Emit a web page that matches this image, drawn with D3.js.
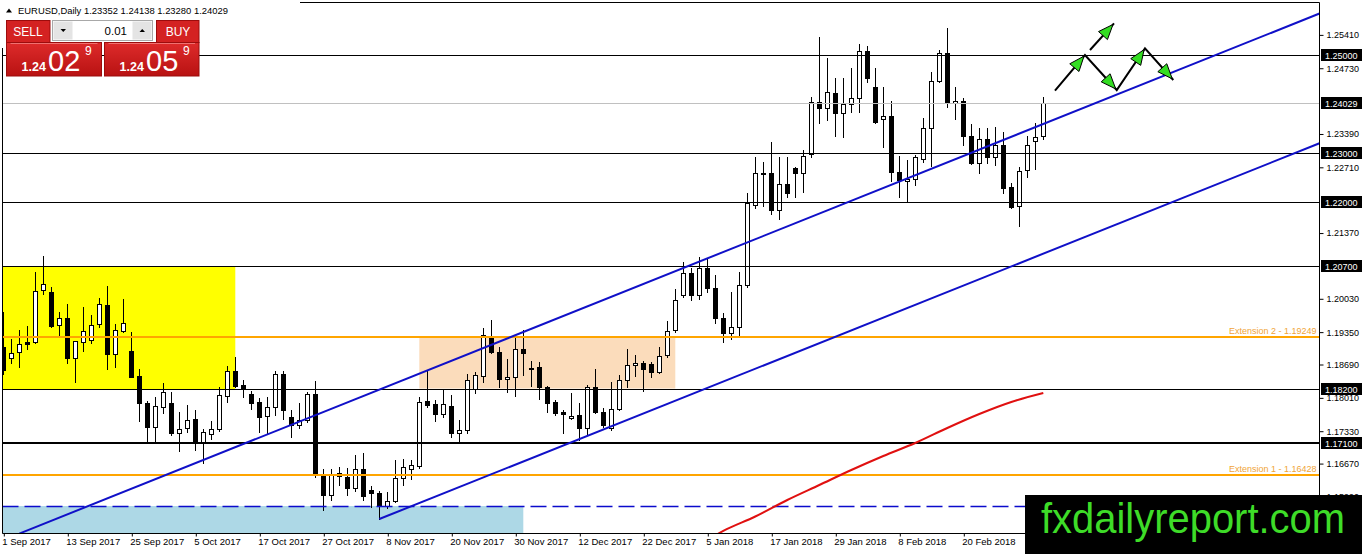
<!DOCTYPE html>
<html>
<head>
<meta charset="utf-8">
<script src="https://d3js.org/d3.v7.min.js"></script>
<style>
    * { margin: 0; padding: 0; }
    body { width: 1362px; height: 554px; overflow: hidden; background: #fff; }
    #chart { width: 1362px; height: 554px; }
    text { font-family: "Liberation Sans", Arial, sans-serif; }
</style>
</head>
<body>
<div id="chart"></div>
<script>
    // trading days shown on the chart (1 Sep 2017 .. 6 Mar 2018)
    const dates = [
        "2017-09-01","2017-09-04","2017-09-05","2017-09-06","2017-09-07","2017-09-08","2017-09-11","2017-09-12","2017-09-13","2017-09-14",
        "2017-09-15","2017-09-18","2017-09-19","2017-09-20","2017-09-21","2017-09-22","2017-09-25","2017-09-26","2017-09-27","2017-09-28",
        "2017-09-29","2017-10-02","2017-10-03","2017-10-04","2017-10-05","2017-10-06","2017-10-09","2017-10-10","2017-10-11","2017-10-12",
        "2017-10-13","2017-10-16","2017-10-17","2017-10-18","2017-10-19","2017-10-20","2017-10-23","2017-10-24","2017-10-25","2017-10-26",
        "2017-10-27","2017-10-30","2017-10-31","2017-11-01","2017-11-02","2017-11-03","2017-11-06","2017-11-07","2017-11-08","2017-11-09",
        "2017-11-10","2017-11-13","2017-11-14","2017-11-15","2017-11-16","2017-11-17","2017-11-20","2017-11-21","2017-11-22","2017-11-23",
        "2017-11-24","2017-11-27","2017-11-28","2017-11-29","2017-11-30","2017-12-01","2017-12-04","2017-12-05","2017-12-06","2017-12-07",
        "2017-12-08","2017-12-11","2017-12-12","2017-12-13","2017-12-14","2017-12-15","2017-12-18","2017-12-19","2017-12-20","2017-12-21",
        "2017-12-22","2017-12-26","2017-12-27","2017-12-28","2017-12-29","2018-01-02","2018-01-03","2018-01-04","2018-01-05","2018-01-08",
        "2018-01-09","2018-01-10","2018-01-11","2018-01-12","2018-01-15","2018-01-16","2018-01-17","2018-01-18","2018-01-19","2018-01-22",
        "2018-01-23","2018-01-24","2018-01-25","2018-01-26","2018-01-29","2018-01-30","2018-01-31","2018-02-01","2018-02-02","2018-02-05",
        "2018-02-06","2018-02-07","2018-02-08","2018-02-09","2018-02-12","2018-02-13","2018-02-14","2018-02-15","2018-02-16","2018-02-19",
        "2018-02-20","2018-02-21","2018-02-22","2018-02-23","2018-02-26","2018-02-27","2018-02-28","2018-03-01","2018-03-02","2018-03-05",
        "2018-03-06"
    ];

    const open = [
        1.19053,1.18816,1.18939,1.19142,1.19142,1.20203,1.20162,1.19489,1.19632,1.18816,
        1.19142,1.19189,1.19510,1.19903,1.18898,1.19379,1.18965,1.18456,1.17905,1.17410,
        1.17817,1.17899,1.17287,1.17389,1.17573,1.17104,1.17273,1.17369,1.18048,1.18551,
        1.18272,1.18089,1.17925,1.17640,1.17830,1.18490,1.17614,1.17457,1.17559,1.18082,
        1.16458,1.16036,1.16472,1.16403,1.16166,1.16553,1.16125,1.16064,1.15805,1.15913,
        1.16370,1.16553,1.16621,1.17946,1.17879,1.17675,1.17844,1.17287,1.17355,1.18191,
        1.18462,1.19236,1.18951,1.18388,1.18441,1.19000,1.18619,1.18633,1.18225,1.17919,
        1.17715,1.17605,1.17660,1.17389,1.18225,1.17728,1.17389,1.17777,1.18374,1.18680,
        1.18727,1.18694,1.18543,1.18884,1.19393,1.20107,1.20549,1.20107,1.20651,1.20243,
        1.19632,1.19326,1.19448,1.20311,1.21942,1.22600,1.22588,1.21840,1.22364,1.22690,
        1.22588,1.22975,1.24048,1.23913,1.24231,1.23811,1.23995,1.24117,1.25081,1.24341,
        1.23689,1.23756,1.22608,1.22437,1.22466,1.22873,1.23505,1.24476,1.25034,1.24021,
        1.24062,1.23348,1.22804,1.23287,1.22914,1.23165,1.22303,1.21921,1.22655,1.23246,
        1.23352
    ];
    const high = [
        1.19766,1.19204,1.19393,1.19475,1.20576,1.20902,1.20264,1.19760,1.19917,1.19169,
        1.19862,1.19693,1.20040,1.20290,1.19516,1.20019,1.19346,1.18598,1.17946,1.18027,
        1.18307,1.18123,1.17715,1.17858,1.17762,1.17369,1.17538,1.18237,1.18659,1.18843,
        1.18374,1.18156,1.18013,1.18021,1.18557,1.18557,1.17762,1.17899,1.18135,1.18354,
        1.16553,1.16553,1.16594,1.16574,1.16845,1.16892,1.16219,1.16111,1.16097,1.16743,
        1.16757,1.16743,1.18034,1.18578,1.17966,1.18184,1.18068,1.17559,1.18496,1.18543,
        1.19428,1.19597,1.19053,1.18796,1.19245,1.19393,1.18761,1.18747,1.18252,1.17966,
        1.17762,1.18103,1.17899,1.18272,1.18592,1.17797,1.18339,1.18476,1.19000,1.18884,
        1.18761,1.18747,1.19053,1.19583,1.20223,1.20786,1.20651,1.20875,1.20835,1.20515,
        1.19734,1.20162,1.20582,1.22180,1.22926,1.22824,1.23232,1.22926,1.22926,1.22723,
        1.23063,1.24150,1.25361,1.24945,1.24525,1.24537,1.24741,1.25224,1.25183,1.24729,
        1.24341,1.24062,1.22941,1.22859,1.22961,1.23709,1.24659,1.25102,1.25544,1.24341,
        1.24117,1.23593,1.23518,1.23505,1.23538,1.23436,1.22396,1.22723,1.23348,1.23620,
        1.24138
    ];
    const low = [
        1.18496,1.18714,1.18645,1.19000,1.19122,1.20121,1.19448,1.19277,1.18714,1.18339,
        1.18971,1.19122,1.19461,1.18592,1.18633,1.19346,1.18429,1.17544,1.17136,1.17136,
        1.17695,1.17253,1.16933,1.17308,1.16947,1.16676,1.17165,1.17334,1.17932,1.18231,
        1.18021,1.17777,1.17320,1.17300,1.17660,1.17573,1.17218,1.17402,1.17524,1.16390,
        1.15724,1.15928,1.16233,1.16029,1.16111,1.15928,1.15791,1.15540,1.15758,1.15893,
        1.16233,1.16350,1.16580,1.17830,1.17544,1.17626,1.17218,1.17116,1.17287,1.18103,
        1.18339,1.18918,1.18237,1.18135,1.18048,1.18476,1.18252,1.17980,1.17728,1.17660,
        1.17287,1.17579,1.17151,1.17253,1.17695,1.17422,1.17355,1.17762,1.18237,1.18456,
        1.18156,1.18429,1.18511,1.18843,1.19359,1.20066,1.20005,1.20019,1.20174,1.19530,
        1.19155,1.19204,1.19257,1.20270,1.21874,1.21921,1.21758,1.21650,1.22111,1.22111,
        1.22213,1.22926,1.23620,1.23675,1.23348,1.23334,1.23844,1.23844,1.24455,1.23620,
        1.23130,1.22437,1.22111,1.22029,1.22349,1.22824,1.22737,1.24455,1.23934,1.23689,
        1.23165,1.22778,1.22588,1.22804,1.22757,1.22192,1.21874,1.21514,1.22506,1.22670,
        1.23280
    ];
    const close = [
        1.18578,1.18930,1.19102,1.19118,1.20182,1.20337,1.19481,1.19632,1.18816,1.19169,
        1.19379,1.19501,1.19917,1.18898,1.19387,1.19530,1.18441,1.17899,1.17410,1.17838,
        1.18123,1.17287,1.17381,1.17552,1.17100,1.17320,1.17369,1.18068,1.18551,1.18258,
        1.18191,1.17911,1.17626,1.17830,1.18490,1.17762,1.17457,1.17559,1.18082,1.16458,
        1.16036,1.16458,1.16423,1.16166,1.16553,1.16009,1.16064,1.15805,1.15913,1.16382,
        1.16606,1.16635,1.17932,1.17864,1.17675,1.17879,1.17287,1.17355,1.18374,1.18470,
        1.19291,1.18951,1.18388,1.18429,1.19000,1.18930,1.18592,1.18225,1.17911,1.17695,
        1.17687,1.17646,1.17389,1.18225,1.17728,1.17457,1.17777,1.18374,1.18674,1.18727,
        1.18592,1.18543,1.18863,1.19379,1.20005,1.20549,1.20107,1.20651,1.20243,1.19632,
        1.19338,1.19448,1.20311,1.21976,1.22600,1.22574,1.21840,1.22364,1.22180,1.22588,
        1.22947,1.24048,1.23913,1.24252,1.23811,1.24001,1.24117,1.25075,1.24525,1.23640,
        1.23756,1.22621,1.22451,1.22466,1.22914,1.23505,1.24476,1.25034,1.24048,1.24062,
        1.23348,1.22804,1.23281,1.22914,1.23165,1.22294,1.21907,1.22641,1.23165,1.23322,
        1.24029
    ];

    // moving average (read at a few bars)
    const maIdx = [88, 90, 94, 98, 102, 106, 110, 114, 118, 122, 126, 130];
    const maVal = [1.15112, 1.15296, 1.15591, 1.15928, 1.16233, 1.16539, 1.16825, 1.17090, 1.17396, 1.17681, 1.17926, 1.18109];

    const xTickDates = ["2017-09-01","2017-09-13","2017-09-25","2017-10-05","2017-10-17","2017-10-27","2017-11-08","2017-11-20",
        "2017-11-30","2017-12-12","2017-12-22","2018-01-05","2018-01-17","2018-01-29","2018-02-08","2018-02-20"];
    const xTickLabels = ["1 Sep 2017","13 Sep 2017","25 Sep 2017","5 Oct 2017","17 Oct 2017","27 Oct 2017","8 Nov 2017","20 Nov 2017",
        "30 Nov 2017","12 Dec 2017","22 Dec 2017","5 Jan 2018","17 Jan 2018","29 Jan 2018","8 Feb 2018","20 Feb 2018"];
    const priceTicks = [1.25410, 1.24730, 1.23390, 1.22710, 1.21370, 1.20030, 1.19350, 1.18690, 1.18010, 1.17330, 1.16670, 1.15990];

    const levels = [1.25, 1.23, 1.22, 1.207, 1.182, 1.171];
    const extLevels = [1.19249, 1.16428];
    const extLabels = ["Extension 2 - 1.19249", "Extension 1 - 1.16428"];
    const bid = 1.24029;
    const dashLevel = 1.15805;

    // boxes: from bar, to bar, top price, bottom price
    const zoneFrom = [-1, 52, -1];
    const zoneTo = [29, 84, 65];
    const zoneTop = [1.2068, 1.1925, 1.15805];
    const zoneBottom = [1.1817, 1.1820, 1.14];

    // channel anchors [bar, price]
    const channelUpper = [[2, 1.15243], [150, 1.24898]];
    const channelLower = [[47, 1.15540], [150, 1.22254]];

    // projection arrows [bar, price]
    const zigzag = [[131.46, 1.24272], [135.21, 1.25], [139.18, 1.24286], [142.71, 1.25136], [146.25, 1.24490]];
    const sideArrow = [[135.84, 1.25102], [138.84, 1.25646]];

    const header = "EURUSD,Daily  1.23352 1.24138 1.23280 1.24029";

    let W = 1362, H = 554;
    let frame = { left: 2.5, right: 1319.5, top: 2.5, bottom: 533.5 };

    let x = d3.scaleLinear().domain([0, 130]).range([3.3, 1043.3]);
    let y = d3.scaleLinear().domain([1.171, 1.25]).range([442.5, 55]);
    let px = i => Math.round(x(i)) + 0.5;
    let py = v => Math.round(y(v)) + 0.5;

    let svg = d3.select("#chart").append("svg")
        .attr("width", W).attr("height", H)
        .style("display", "block");

    let defs = svg.append("defs");
    defs.append("clipPath").attr("id", "plot").append("rect")
        .attr("x", frame.left).attr("y", frame.top)
        .attr("width", frame.right - frame.left).attr("height", frame.bottom - frame.top);

    let grad = defs.append("linearGradient").attr("id", "redbox").attr("x1", 0).attr("x2", 0).attr("y1", 0).attr("y2", 1);
    grad.append("stop").attr("offset", "0%").attr("stop-color", "#de2b2b");
    grad.append("stop").attr("offset", "100%").attr("stop-color", "#b81212");

    let g = svg.append("g").attr("clip-path", "url(#plot)");

    // zones
    let zoneColors = ["#ffff00", "#fbdcbb", "#add8e6"];
    g.selectAll(".zone").data(zoneFrom).enter().append("rect")
        .attr("x", (d, k) => x(zoneFrom[k]))
        .attr("width", (d, k) => x(zoneTo[k]) - x(zoneFrom[k]))
        .attr("y", (d, k) => y(zoneTop[k]))
        .attr("height", (d, k) => y(zoneBottom[k]) - y(zoneTop[k]))
        .attr("fill", (d, k) => zoneColors[k]);

    // candles
    let candles = dates.map((d, i) => ({ i: i, date: d, o: open[i], h: high[i], l: low[i], c: close[i] }));

    g.selectAll(".wick").data(candles).enter().append("line")
        .attr("x1", d => px(d.i)).attr("x2", d => px(d.i))
        .attr("y1", d => Math.round(y(d.h))).attr("y2", d => Math.round(y(d.l)) + 1)
        .attr("stroke", "#000").attr("stroke-width", 1);

    g.selectAll(".body").data(candles).enter().append("rect")
        .attr("x", d => px(d.i) - 2)
        .attr("width", 4)
        .attr("y", d => py(Math.max(d.o, d.c)))
        .attr("height", d => Math.max(1, Math.round(y(Math.min(d.o, d.c))) - Math.round(y(Math.max(d.o, d.c)))))
        .attr("fill", d => d.c >= d.o ? "#fff" : "#000")
        .attr("stroke", "#000").attr("stroke-width", 1);

    // horizontal levels
    g.selectAll(".level").data(levels).enter().append("line")
        .attr("x1", frame.left).attr("x2", frame.right)
        .attr("y1", d => d == 1.171 ? Math.round(y(d)) : py(d))
        .attr("y2", d => d == 1.171 ? Math.round(y(d)) : py(d))
        .attr("stroke", "#000").attr("stroke-width", d => d == 1.171 ? 2 : 1);

    g.append("line")
        .attr("x1", frame.left).attr("x2", frame.right)
        .attr("y1", py(bid)).attr("y2", py(bid))
        .attr("stroke", "#c0c0c0").attr("stroke-width", 1);

    g.append("line")
        .attr("x1", frame.left).attr("x2", frame.right)
        .attr("y1", py(dashLevel)).attr("y2", py(dashLevel))
        .attr("stroke", "#0b0bcc").attr("stroke-width", 1.5)
        .attr("stroke-dasharray", "16,6");

    g.selectAll(".ext").data(extLevels).enter().append("line")
        .attr("x1", frame.left).attr("x2", frame.right)
        .attr("y1", d => Math.round(y(d))).attr("y2", d => Math.round(y(d)))
        .attr("stroke", "#ffa500").attr("stroke-width", 2);

    g.selectAll(".extlabel").data(extLevels).enter().append("text")
        .attr("x", frame.right - 3).attr("y", d => Math.round(y(d)) - 3)
        .attr("text-anchor", "end")
        .attr("fill", "#f0a438")
        .style("font-size", "9px")
        .text((d, k) => extLabels[k]);

    // channel rays
    let iRight = x.invert(frame.right);
    let ray = pts => {
        let [a, b] = pts;
        let slope = (b[1] - a[1]) / (b[0] - a[0]);
        return [a, [iRight, a[1] + slope * (iRight - a[0])]];
    };
    g.selectAll(".channel").data([channelUpper, channelLower]).enter().append("line")
        .attr("x1", d => x(ray(d)[0][0])).attr("y1", d => y(ray(d)[0][1]))
        .attr("x2", d => x(ray(d)[1][0])).attr("y2", d => y(ray(d)[1][1]))
        .attr("stroke", "#1010c8").attr("stroke-width", 2);

    // moving average
    let maLine = d3.line().x(d => x(d[0])).y(d => y(d[1])).curve(d3.curveMonotoneX);
    g.append("path")
        .datum(maIdx.map((d, k) => [d, maVal[k]]))
        .attr("d", maLine)
        .attr("fill", "none").attr("stroke", "#e01010").attr("stroke-width", 2);

    // projection arrows
    let arrowLine = d3.line().x(d => x(d[0])).y(d => y(d[1]));
    [zigzag, sideArrow].forEach(pts => {
        g.append("path").attr("d", arrowLine(pts))
            .attr("fill", "none").attr("stroke", "#000").attr("stroke-width", 2);
    });
    let heads = [];
    for (let k = 1; k < zigzag.length; k++) heads.push([zigzag[k - 1], zigzag[k]]);
    heads.push([sideArrow[0], sideArrow[1]]);
    g.selectAll(".head").data(heads).enter().append("path")
        .attr("d", d => {
            let x0 = x(d[0][0]), y0 = y(d[0][1]), x1 = x(d[1][0]), y1 = y(d[1][1]);
            let len = Math.hypot(x1 - x0, y1 - y0);
            let ux = (x1 - x0) / len, uy = (y1 - y0) / len;
            let tx = x1 - ux * 1.5, ty = y1 - uy * 1.5;
            let bx = tx - ux * 15, by = ty - uy * 15;
            return `M${tx},${ty}L${bx - uy * 6},${by + ux * 6}L${bx + uy * 6},${by - ux * 6}Z`;
        })
        .attr("fill", "#33dd22").attr("stroke", "#000").attr("stroke-width", 1);

    // frame
    svg.append("line").attr("x1", frame.left).attr("x2", frame.left).attr("y1", 48).attr("y2", frame.bottom).attr("stroke", "#000");
    svg.append("line").attr("x1", 300).attr("x2", frame.right).attr("y1", frame.top).attr("y2", frame.top).attr("stroke", "#000");
    svg.append("line").attr("x1", frame.right).attr("x2", frame.right).attr("y1", frame.top).attr("y2", H).attr("stroke", "#000");
    svg.append("line").attr("x1", frame.left).attr("x2", frame.right).attr("y1", frame.bottom).attr("y2", frame.bottom).attr("stroke", "#000");

    // price axis
    let yAxis = d3.axisRight(y).tickValues(priceTicks).tickSize(4).tickPadding(3).tickFormat(d3.format(".5f"));
    let gy = svg.append("g").attr("transform", `translate(${frame.right},0)`).call(yAxis);
    gy.select(".domain").remove();
    gy.selectAll("text").style("font-size", "9px").attr("fill", "#000").style("font-family", "Liberation Sans, Arial, sans-serif");

    // time axis
    let tickIdx = xTickDates.map(d => dates.indexOf(d));
    let xAxis = d3.axisBottom(x).tickValues(tickIdx).tickSize(3).tickPadding(2)
        .tickFormat((d, k) => xTickLabels[k]);
    let gx = svg.append("g").attr("transform", `translate(0.5,${frame.bottom})`).call(xAxis);
    gx.select(".domain").remove();
    gx.selectAll("text").attr("text-anchor", "start").attr("x", -2)
        .style("font-size", "9.5px").style("font-family", "Liberation Sans, Arial, sans-serif");

    // highlighted price labels
    let marks = levels.concat([bid]);
    let mk = svg.selectAll(".mark").data(marks).enter().append("g")
        .attr("transform", d => `translate(${frame.right + 1.5},${Math.round(y(d))})`);
    mk.append("rect").attr("x", 0).attr("y", -6).attr("width", 42).attr("height", 12).attr("fill", "#000");
    mk.append("text").attr("x", 4).attr("y", 3.5).attr("fill", "#fff")
        .style("font-size", "9px").text(d => d3.format(".5f")(d));

    // header
    svg.append("path").attr("d", "M6,12.5L9,8.5L12,12.5Z").attr("fill", "#000");
    svg.append("text").attr("x", 18).attr("y", 13.5).attr("textLength", 210).attr("lengthAdjust", "spacingAndGlyphs")
        .style("font-size", "9.5px").attr("fill", "#000").text(header);

    // one click trading panel
    let panel = svg.append("g");
    panel.append("rect").attr("x", 6.5).attr("y", 20.5).attr("width", 43.5).attr("height", 22)
        .attr("fill", "#d42222").attr("stroke", "#9c0c0c");
    panel.append("text").attr("x", 28).attr("y", 36).attr("text-anchor", "middle").attr("fill", "#fff")
        .style("font-size", "12px").text("SELL");
    panel.append("rect").attr("x", 156.5).attr("y", 20.5).attr("width", 42.5).attr("height", 22)
        .attr("fill", "#d42222").attr("stroke", "#9c0c0c");
    panel.append("text").attr("x", 178).attr("y", 36).attr("text-anchor", "middle").attr("fill", "#fff")
        .style("font-size", "12px").text("BUY");

    panel.append("rect").attr("x", 52.5).attr("y", 20.5).attr("width", 100).attr("height", 20)
        .attr("fill", "#fff").attr("stroke", "#a8a8a8");
    panel.append("rect").attr("x", 53.5).attr("y", 21.5).attr("width", 19).attr("height", 18).attr("fill", "#e4e4e4");
    panel.append("rect").attr("x", 132.5).attr("y", 21.5).attr("width", 19).attr("height", 18).attr("fill", "#e4e4e4");
    panel.append("path").attr("d", "M60.5,29L66,29L63.25,32Z").attr("fill", "#000");
    panel.append("path").attr("d", "M139.5,32L145,32L142.25,29Z").attr("fill", "#000");
    panel.append("text").attr("x", 127).attr("y", 35).attr("text-anchor", "end").attr("fill", "#000")
        .style("font-size", "11.5px").text("0.01");

    let quotes = [{ x0: 6.5, w: 95, big: "02" }, { x0: 104.5, w: 94.5, big: "05" }];
    let qb = panel.selectAll(".quote").data(quotes).enter().append("g");
    qb.append("rect").attr("x", d => d.x0).attr("y", 42.5).attr("width", d => d.w).attr("height", 33.5)
        .attr("fill", "url(#redbox)").attr("stroke", "#9c0c0c");
    qb.append("line").attr("x1", d => d.x0 + 4).attr("x2", d => d.x0 + d.w - 4)
        .attr("y1", 43.5).attr("y2", 43.5).attr("stroke", "#f07070");
    qb.append("text").attr("x", d => d.x0 + 15).attr("y", 70.5).attr("fill", "#fff")
        .style("font-size", "12.5px").style("font-weight", "bold").text("1.24");
    qb.append("text").attr("x", d => d.x0 + 41.5).attr("y", 70.5).attr("fill", "#fff")
        .style("font-size", "29px").text(d => d.big);
    qb.append("text").attr("x", d => d.x0 + 78.5).attr("y", 55).attr("fill", "#fff")
        .style("font-size", "12px").text("9");

    // watermark
    svg.append("rect").attr("x", 1025).attr("y", 495).attr("width", W - 1025).attr("height", H - 495).attr("fill", "#000");
    svg.append("text").attr("x", 1041).attr("y", 533).attr("textLength", 304).attr("lengthAdjust", "spacingAndGlyphs")
        .attr("fill", "#3edc28").style("font-size", "42px").text("fxdailyreport.com");
</script>
</body>
</html>
